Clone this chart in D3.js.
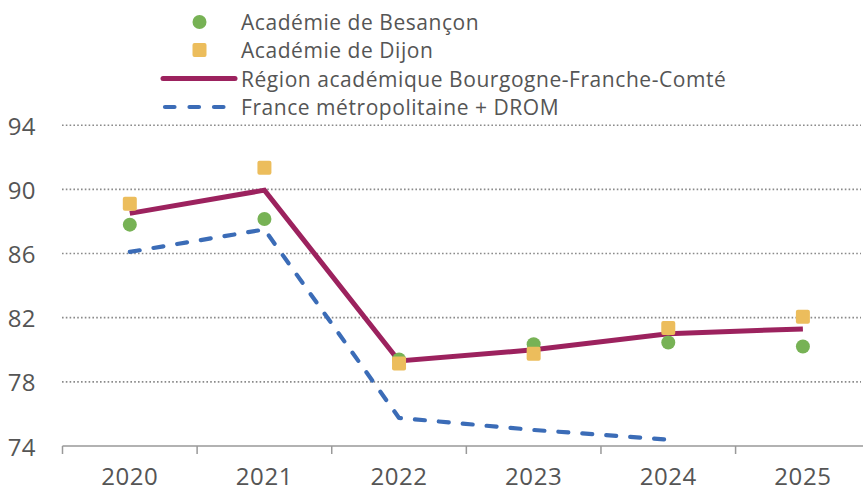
<!DOCTYPE html>
<html>
<head>
<meta charset="utf-8">
<script src="https://cdn.jsdelivr.net/npm/d3@7"></script>
<style>
  html, body { margin: 0; padding: 0; background: #fff; }
  svg { display: block; }
  text { font-family: "Open Sans", "Noto Sans", sans-serif; fill: #555; }
</style>
</head>
<body>
<svg id="chart" width="863" height="494"></svg>
<script>
const years = ["2020", "2021", "2022", "2023", "2024", "2025"];
const besancon = [87.8, 88.15, 79.4, 80.35, 80.45, 80.2];
const dijon = [89.1, 91.35, 79.15, 79.75, 81.35, 82.05];
const region = [88.5, 89.95, 79.3, 80.0, 81.0, 81.3];
const france = [86.1, 87.5, 75.75, 75.0, 74.4, null];
const yTicks = [74, 78, 82, 86, 90, 94];
const legendLabels = [
  "Académie de Besançon",
  "Académie de Dijon",
  "Région académique Bourgogne-Franche-Comté",
  "France métropolitaine + DROM"
];

const colors = { besancon: "#77b255", dijon: "#ecbd5c", region: "#9c225e", france: "#3b6cb7" };

const svg = d3.select("#chart");
const x = d3.scaleBand().domain(years).range([62.5, 870.2]);
const y = d3.scaleLinear().domain([74, 96]).range([446, 93.1]);
const cx = d => x(d) + x.bandwidth() / 2;

// gridlines
svg.append("g").selectAll("line").data(yTicks.filter(t => t > 74)).join("line")
  .attr("x1", 62).attr("x2", 861)
  .attr("y1", d => y(d)).attr("y2", d => y(d))
  .attr("stroke", "#8a8a8a").attr("stroke-width", 1.6)
  .attr("stroke-dasharray", "1.6,2.2");

// y labels
svg.append("g").selectAll("text").data(yTicks).join("text")
  .attr("x", 36).attr("y", d => y(d))
  .attr("text-anchor", "end").attr("dominant-baseline", "central")
  .attr("font-size", 24).attr("letter-spacing", 0.4).text(d => d);

// x axis
const xAxis = d3.axisBottom(x).tickSize(0).tickPadding(0).tickFormat(() => "");
const gx = svg.append("g").attr("transform", "translate(0,446)").call(xAxis);
gx.select(".domain").attr("stroke", "#999").attr("stroke-width", 1.5).attr("d", "M62.5,0H870");
const bounds = years.map(d => x(d));
svg.append("g").selectAll("line").data(bounds).join("line")
  .attr("x1", d => d).attr("x2", d => d).attr("y1", 446).attr("y2", 454)
  .attr("stroke", "#999").attr("stroke-width", 1.5);
svg.append("g").selectAll("text").data(years).join("text")
  .attr("x", d => cx(d)).attr("y", 485)
  .attr("text-anchor", "middle").attr("font-size", 24).attr("letter-spacing", 0.6).text(d => d);

// lines
const lineGen = d3.line().defined(d => d.v != null).x(d => cx(d.k)).y(d => y(d.v));
svg.append("path")
  .datum(years.map((k, i) => ({ k, v: france[i] })))
  .attr("d", lineGen).attr("fill", "none")
  .attr("stroke", colors.france).attr("stroke-width", 4.2)
  .attr("stroke-linecap", "round").attr("stroke-linejoin", "round")
  .attr("stroke-dasharray", "10,14");
svg.append("path")
  .datum(years.map((k, i) => ({ k, v: region[i] })))
  .attr("d", lineGen).attr("fill", "none")
  .attr("stroke", colors.region).attr("stroke-width", 5)
  .attr("stroke-linejoin", "miter");

// markers
svg.append("g").selectAll("circle").data(years).join("circle")
  .attr("cx", d => cx(d)).attr("cy", (d, i) => y(besancon[i])).attr("r", 7)
  .attr("fill", colors.besancon);
svg.append("g").selectAll("rect").data(years).join("rect")
  .attr("x", d => cx(d) - 7).attr("y", (d, i) => y(dijon[i]) - 7)
  .attr("width", 14).attr("height", 14).attr("rx", 2)
  .attr("fill", colors.dijon);

// legend
const lg = svg.append("g");
const rows = [22, 50, 78.5, 107];
lg.append("circle").attr("cx", 199.5).attr("cy", rows[0]).attr("r", 7).attr("fill", colors.besancon);
lg.append("rect").attr("x", 192.5).attr("y", rows[1] - 7).attr("width", 14).attr("height", 14).attr("rx", 2).attr("fill", colors.dijon);
lg.append("line").attr("x1", 163).attr("x2", 235).attr("y1", rows[2]).attr("y2", rows[2])
  .attr("stroke", colors.region).attr("stroke-width", 5).attr("stroke-linecap", "round");
lg.append("line").attr("x1", 165).attr("x2", 234).attr("y1", rows[3]).attr("y2", rows[3])
  .attr("stroke", colors.france).attr("stroke-width", 4.2).attr("stroke-linecap", "round")
  .attr("stroke-dasharray", "9.5,15");
lg.selectAll("text").data(legendLabels).join("text")
  .attr("x", 241).attr("y", (d, i) => rows[i])
  .attr("dominant-baseline", "central").attr("font-size", 21).attr("letter-spacing", 0.55)
  .text(d => d);
</script>
</body>
</html>
